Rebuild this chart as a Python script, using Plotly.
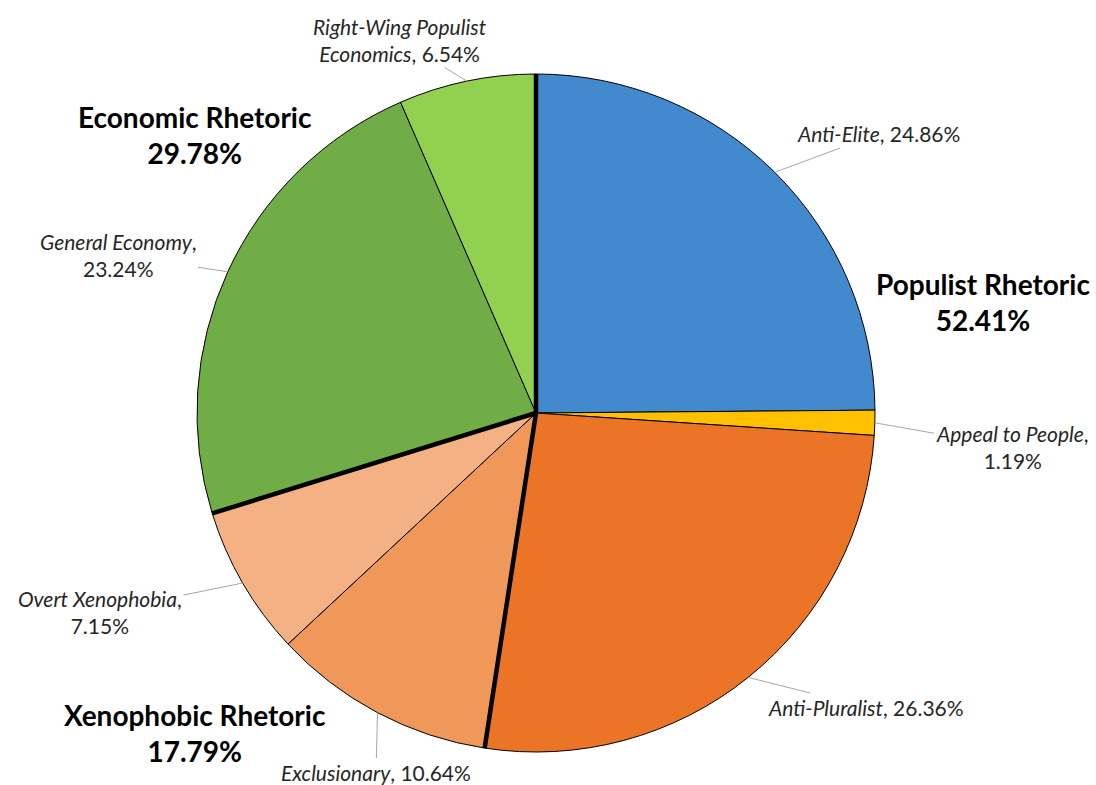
import math
import plotly.graph_objects as go

W, H = 1096, 785

slices = ["Anti-Elite", "Appeal to People", "Anti-Pluralist", "Exclusionary",
          "Overt Xenophobia", "General Economy", "Right-Wing Populist Economics"]
values = [24.86, 1.19, 26.36, 10.64, 7.15, 23.24, 6.54]
colors = ["#4389CE", "#FFC000", "#EC7426", "#F0975A", "#F4B183", "#70AD47", "#92D050"]
# label text (with line breaks) for each slice
label_text = ["<i>Anti-Elite</i>, 24.86%",
              "<i>Appeal to People</i>,<br>1.19%",
              "<i>Anti-Pluralist</i>, 26.36%",
              "<i>Exclusionary</i>, 10.64%",
              "<i>Overt Xenophobia</i>,<br>7.15%",
              "<i>General Economy</i>,<br>23.24%",
              "<i>Right-Wing Populist</i><br><i>Economics</i>, 6.54%"]

groups = ["Populist Rhetoric", "Xenophobic Rhetoric", "Economic Rhetoric"]
group_values = ["52.41%", "17.79%", "29.78%"]
group_sizes = [3, 2, 2]  # number of slices in each group

# layout geometry (pixels)
cx, cy, R = 536, 413, 339
label_pos = [(878, 134), (1012, 447), (866, 707), (376, 772), (100, 612), (118, 255), (400, 40)]
group_pos = [(983, 302), (195, 733), (195, 135)]

fig = go.Figure()
fig.add_trace(go.Pie(
    labels=slices, values=values, sort=False, direction="clockwise", rotation=0,
    marker=dict(colors=colors, line=dict(color="black", width=1)),
    textinfo="none", hoverinfo="label+percent", showlegend=False,
    domain=dict(x=[(cx - R) / W, (cx + R) / W], y=[1 - (cy + R) / H, 1 - (cy - R) / H]),
))

total = sum(values)

def edge_px(frac, r=R):
    th = 2 * math.pi * frac
    return cx + r * math.sin(th), cy - r * math.cos(th)

annotations = []
cum = 0.0
for i, v in enumerate(values):
    mid = (cum + v / 2) / total
    ex, ey = edge_px(mid)
    tx, ty = label_pos[i]
    annotations.append(dict(
        x=ex / W, y=1 - ey / H, xref="paper", yref="paper",
        ax=tx - ex, ay=ty - ey, axref="pixel", ayref="pixel",
        text=label_text[i], showarrow=True, arrowhead=0, arrowwidth=1,
        arrowcolor="#A6A6A6", standoff=0,
        font=dict(family="Lato", size=21, color="#262626"), align="center"))
    cum += v

for g, gv, (gx, gy) in zip(groups, group_values, group_pos):
    annotations.append(dict(
        x=gx / W, y=1 - gy / H, xref="paper", yref="paper", showarrow=False,
        text=f"<b>{g}</b><br><b>{gv}</b>", align="center",
        font=dict(family="Lato", size=28, color="black"), xanchor="center", yanchor="middle"))

# thick group boundary lines
shapes = []
cum = 0.0
idx = 0
for n in group_sizes:
    ex, ey = edge_px(cum / total)
    shapes.append(dict(type="line", xref="paper", yref="paper",
                       x0=cx / W, y0=1 - cy / H, x1=ex / W, y1=1 - ey / H,
                       line=dict(color="black", width=4.5)))
    cum += sum(values[idx:idx + n])
    idx += n

fig.update_layout(width=W, height=H, margin=dict(l=0, r=0, t=0, b=0),
                  paper_bgcolor="white", plot_bgcolor="white",
                  annotations=annotations, shapes=shapes)
fig.write_html("out.html")
